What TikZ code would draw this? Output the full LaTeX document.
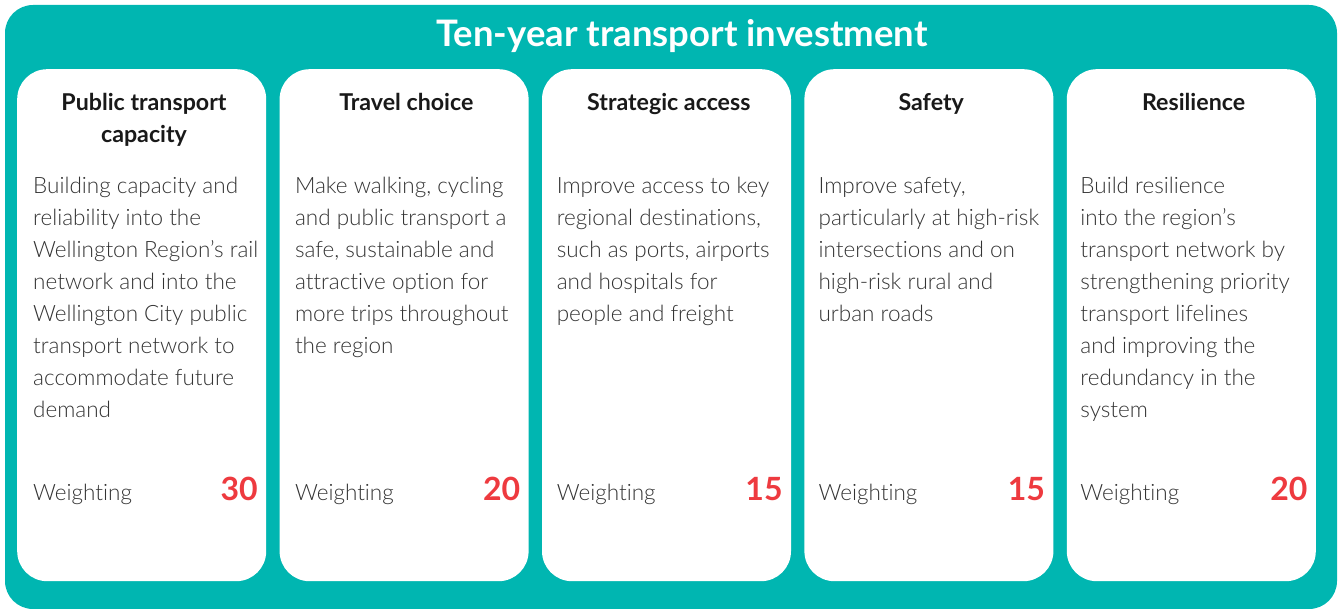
\documentclass[tikz,border=0pt]{standalone}
\usepackage{fontspec}
\setmainfont{Lato}[UprightFont=* Light, BoldFont=* Bold, Ligatures=NoCommon]
\definecolor{wcteal}{HTML}{00B6B1}
\definecolor{wtred}{HTML}{EE3A3F}
\definecolor{txtgray}{HTML}{333333}

\tikzset{
  card/.style={fill=white, rounded corners=30pt, minimum width=249pt,
    minimum height=512pt, inner sep=0pt, anchor=north west},
  head/.style={font=\fontsize{23.2}{32}\selectfont\bfseries, align=center,
    anchor=north, inner sep=0pt, text=black!90},
  body/.style={font=\fontsize{22.5}{32}\selectfont, align=left,
    anchor=north west, inner sep=0pt, text=txtgray},
  wlab/.style={font=\fontsize{22.5}{32}\selectfont, anchor=base west,
    inner sep=0pt, text=txtgray},
  score/.style={font=\fontsize{32}{32}\selectfont\bfseries, text=wtred,
    anchor=base east, inner sep=0pt}
}

\begin{document}
\begin{tikzpicture}[x=1pt, y=-1pt]
\useasboundingbox (0,0) rectangle (1339,609);
\fill[wcteal, rounded corners=28pt] (5,5) rectangle (1337,609);

\node[font=\fontsize{36.5}{36}\selectfont\bfseries, text=white, anchor=base,
  inner sep=0pt] (title) at (682,47) {Ten-year transport investment};

% first baselines: heading 110, body 193 (strut height 22.4)
\foreach \i/\hd/\bd/\sc in {
  0/{Public transport\\capacity}/{Building capacity and\\reliability into the\\Wellington Region’s rail\\network and into the\\Wellington City public\\transport network to\\accommodate future\\demand}/30,
  1/{Travel choice}/{Make walking, cycling\\and public transport a\\safe, sustainable and\\attractive option for\\more trips throughout\\the region}/20,
  2/{Strategic access}/{Improve access to key\\regional destinations,\\such as ports, airports\\and hospitals for\\people and freight}/15,
  3/{Safety}/{Improve safety,\\particularly at high-risk\\intersections and on\\high-risk rural and\\urban roads}/15,
  4/{Resilience}/{Build resilience\\into the region’s\\transport network by\\strengthening priority\\transport lifelines\\and improving the\\redundancy in the\\system}/20}
{
  \pgfmathsetmacro{\lx}{17+262.4*\i}
  \pgfmathsetmacro{\tx}{33+261.8*\i}
  \node[card] (card\i) at (\lx,69) {};
  \node[head] (head\i) at (\lx+127,87.6) {\strut\hd};
  \node[body] (body\i) at (\tx,170.6) {\strut\bd};
  \node[wlab] (wlab\i) at (\tx,500) {Weighting};
  \node[score] (score\i) at (\lx+241,500) {\sc};
}
\end{tikzpicture}
\end{document}
